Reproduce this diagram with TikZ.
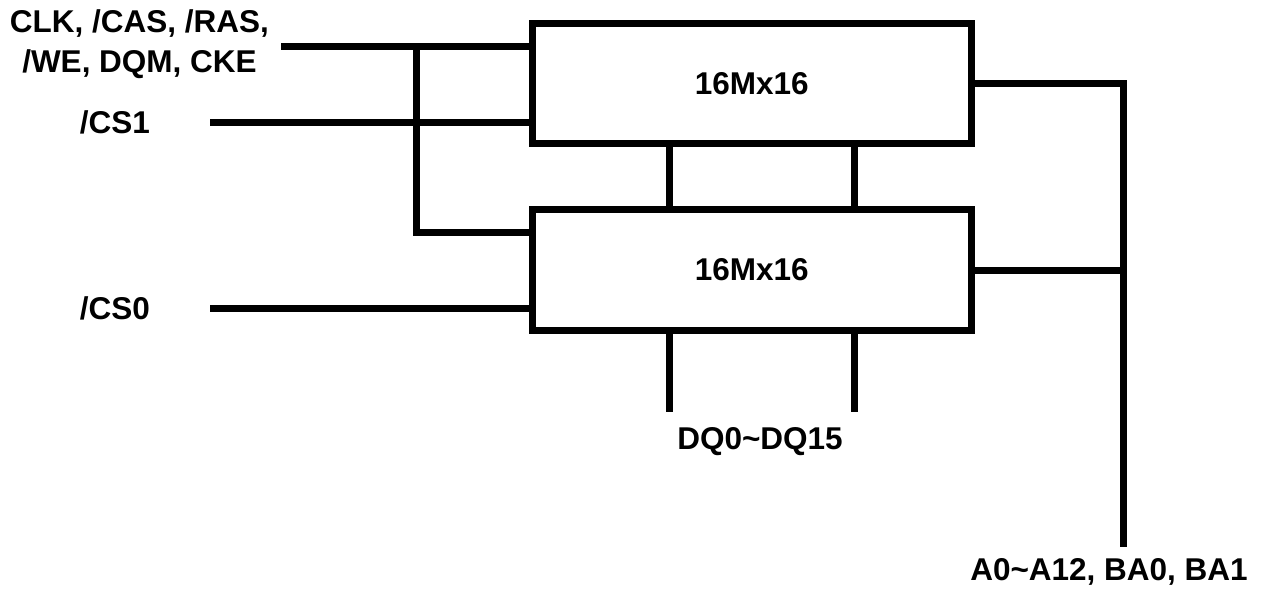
\documentclass[tikz,border=0pt]{standalone}
\usepackage{fontspec}
\setmainfont{Liberation Sans}
\begin{document}
\begin{tikzpicture}[x=1pt,y=-1pt,
  wire/.style={line width=7pt, line join=miter},
  chip/.style={draw, line width=7pt, rectangle, minimum width=438.5pt, minimum height=120.5pt, inner sep=0pt, font=\bfseries\fontsize{31.5}{40}\selectfont},
  lbl/.style={font=\bfseries\fontsize{31.5}{40}\selectfont, inner sep=0pt}]
\useasboundingbox (0,0) rectangle (1263,595);
\node[chip] (top) at (751.75,83.25) {16Mx16};
\node[chip] (bot) at (751.75,270) {16Mx16};
\coordinate (clkin) at (281,46);
\coordinate (cs1in) at (210,122);
\coordinate (cs0in) at (210,308.5);
\coordinate (br) at (416.5,46);
\coordinate (dqa) at (669.5,412);
\coordinate (dqb) at (854.5,412);
\coordinate (ac) at (1123,83.25);
\coordinate (addr) at (1123,547);
% inputs
\draw[wire] (clkin) -- (clkin -| top.west);
\draw[wire] (cs1in) -- (cs1in -| top.west);
\draw[wire] (cs0in) -- (cs0in -| bot.west);
\draw[wire] (br) |- ([yshift=37.5pt]bot.west);
% data lines
\draw[wire] (top.south -| dqa) -- (bot.north -| dqa);
\draw[wire] (top.south -| dqb) -- (bot.north -| dqb);
\draw[wire] (bot.south -| dqa) -- (dqa);
\draw[wire] (bot.south -| dqb) -- (dqb);
% address
\draw[wire] (top.east) -- (ac) -- (addr);
\draw[wire] (bot.east) -- (bot.east -| addr);
% labels
\node[lbl, align=center] (clklbl) at (139.5,44) {CLK, /CAS, /RAS,\\/WE, DQM, CKE};
\node[lbl, anchor=base] (cs1) at (115,133) {/CS1};
\node[lbl, anchor=base] (cs0) at (115,319.5) {/CS0};
\node[lbl, anchor=base] (dq) at (760,449) {DQ0\textasciitilde DQ15};
\node[lbl, anchor=base] (alb) at (1109,580) {A0\textasciitilde A12, BA0, BA1};
\end{tikzpicture}
\end{document}
